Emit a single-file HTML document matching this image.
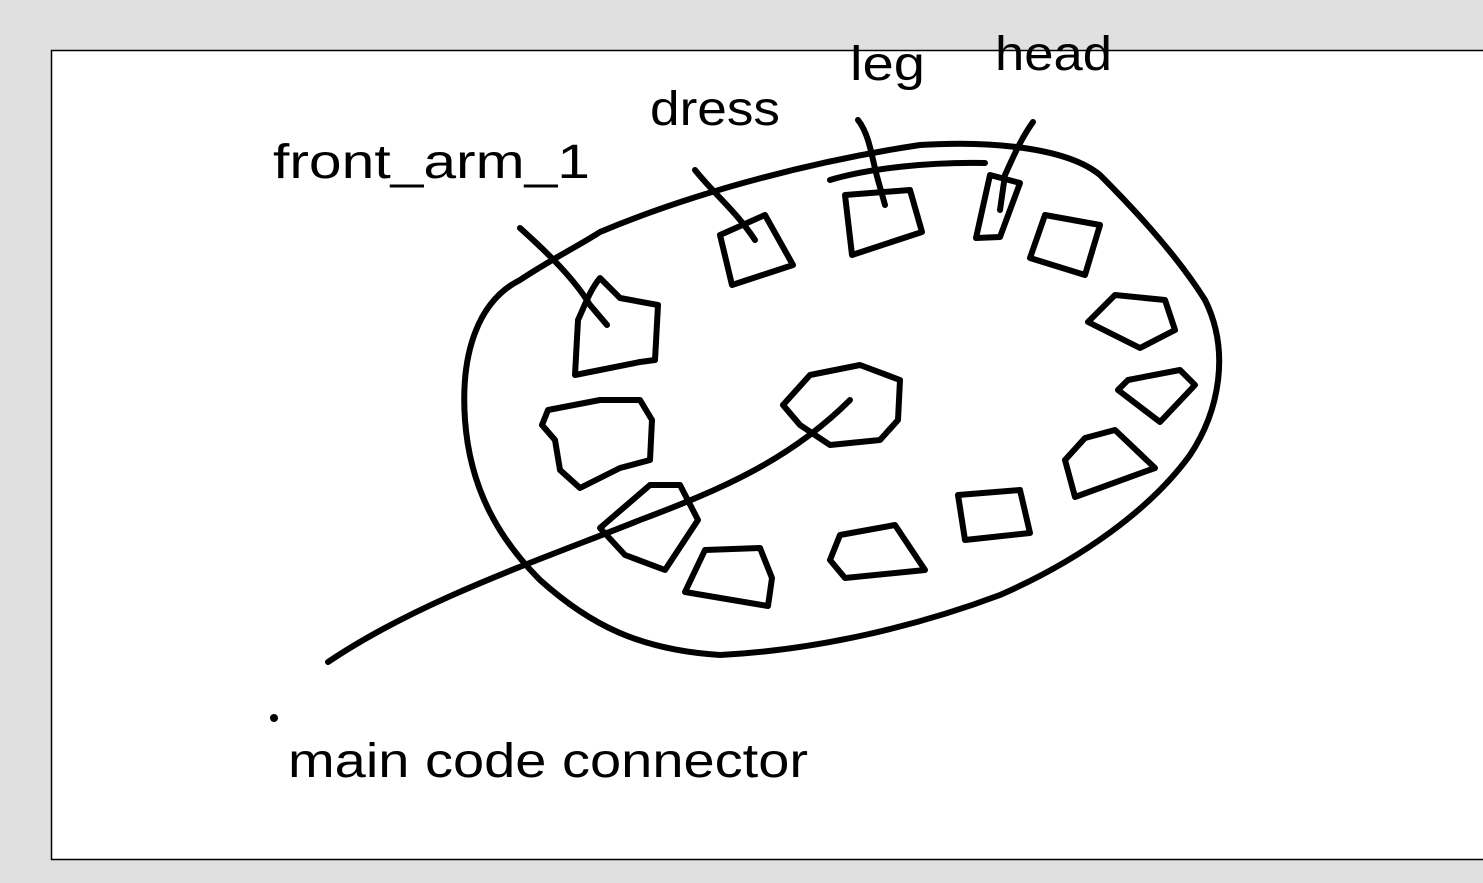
<!DOCTYPE html>
<html><head><style>
html,body{margin:0;padding:0;background:#e0e0e0;width:1483px;height:883px;overflow:hidden}
svg{position:absolute;left:0;top:0}
text{font-family:"Liberation Sans",sans-serif;font-size:48px;fill:#000}
</style></head><body>
<svg width="1483" height="883" viewBox="0 0 1483 883">
<rect x="51.5" y="50.5" width="1440" height="809" fill="#fff" stroke="#000" stroke-width="1.5"/>
<g fill="none" stroke="#000" stroke-width="6" stroke-linecap="round" stroke-linejoin="round">
<path d="M600,232 C700,190 820,160 920,145 C1000,140 1070,150 1100,175 C1140,215 1180,260 1205,300 C1230,350 1220,410 1190,455 C1150,510 1080,560 1000,595 C920,625 820,650 720,655 C640,650 590,625 540,580 C500,540 470,490 465,420 C460,350 480,300 520,280 C550,260 580,245 600,232 Z"/>
<path d="M985,163 C930,162 870,168 830,180"/>
<path d="M328,662 C420,600 540,560 640,520 C720,490 790,460 850,400"/>
<path d="M520,228 C550,255 575,280 590,305 L607,325"/>
<path d="M695,170 C715,195 735,210 755,240"/>
<path d="M858,120 C870,135 872,160 878,180 L885,205"/>
<path d="M1033,122 C1020,140 1012,160 1005,175 L1000,210"/>
<path d="M600,278 C590,290 585,305 578,320 L575,375 L640,362 L655,360 L658,305 L620,298 Z"/>
<path d="M720,235 L765,215 L793,265 L732,285 Z"/>
<path d="M845,195 L910,190 L922,232 L852,255 Z"/>
<path d="M990,175 L1020,183 L1000,237 L976,238 Z"/>
<path d="M1045,215 L1100,225 L1085,275 L1030,258 Z"/>
<path d="M1115,295 L1165,300 L1175,330 L1140,348 L1088,322 Z"/>
<path d="M1128,380 L1180,370 L1195,385 L1160,422 L1118,390 Z"/>
<path d="M1085,438 L1115,430 L1155,468 L1075,497 L1065,460 Z"/>
<path d="M958,495 L1020,490 L1030,533 L965,540 Z"/>
<path d="M840,535 L895,525 L925,570 L845,578 L830,560 Z"/>
<path d="M705,550 L760,548 L772,578 L768,606 L685,592 Z"/>
<path d="M600,528 L650,485 L680,485 L698,520 L665,570 L625,555 Z"/>
<path d="M548,410 L600,400 L640,400 L652,420 L650,460 L620,468 L580,488 L560,470 L555,440 L542,425 Z"/>
<path d="M783,405 L810,375 L860,365 L900,380 L898,420 L880,440 L830,445 L800,425 Z"/>
</g>
<circle cx="274" cy="718" r="4" fill="#000"/>
<text x="273" y="178" textLength="317" lengthAdjust="spacingAndGlyphs">front_arm_1</text>
<text x="650" y="125" textLength="130" lengthAdjust="spacingAndGlyphs">dress</text>
<text x="850" y="80" textLength="75" lengthAdjust="spacingAndGlyphs">leg</text>
<text x="995" y="70" textLength="117" lengthAdjust="spacingAndGlyphs">head</text>
<text x="288" y="777" textLength="520" lengthAdjust="spacingAndGlyphs">main code connector</text>
</svg>
</body></html>
